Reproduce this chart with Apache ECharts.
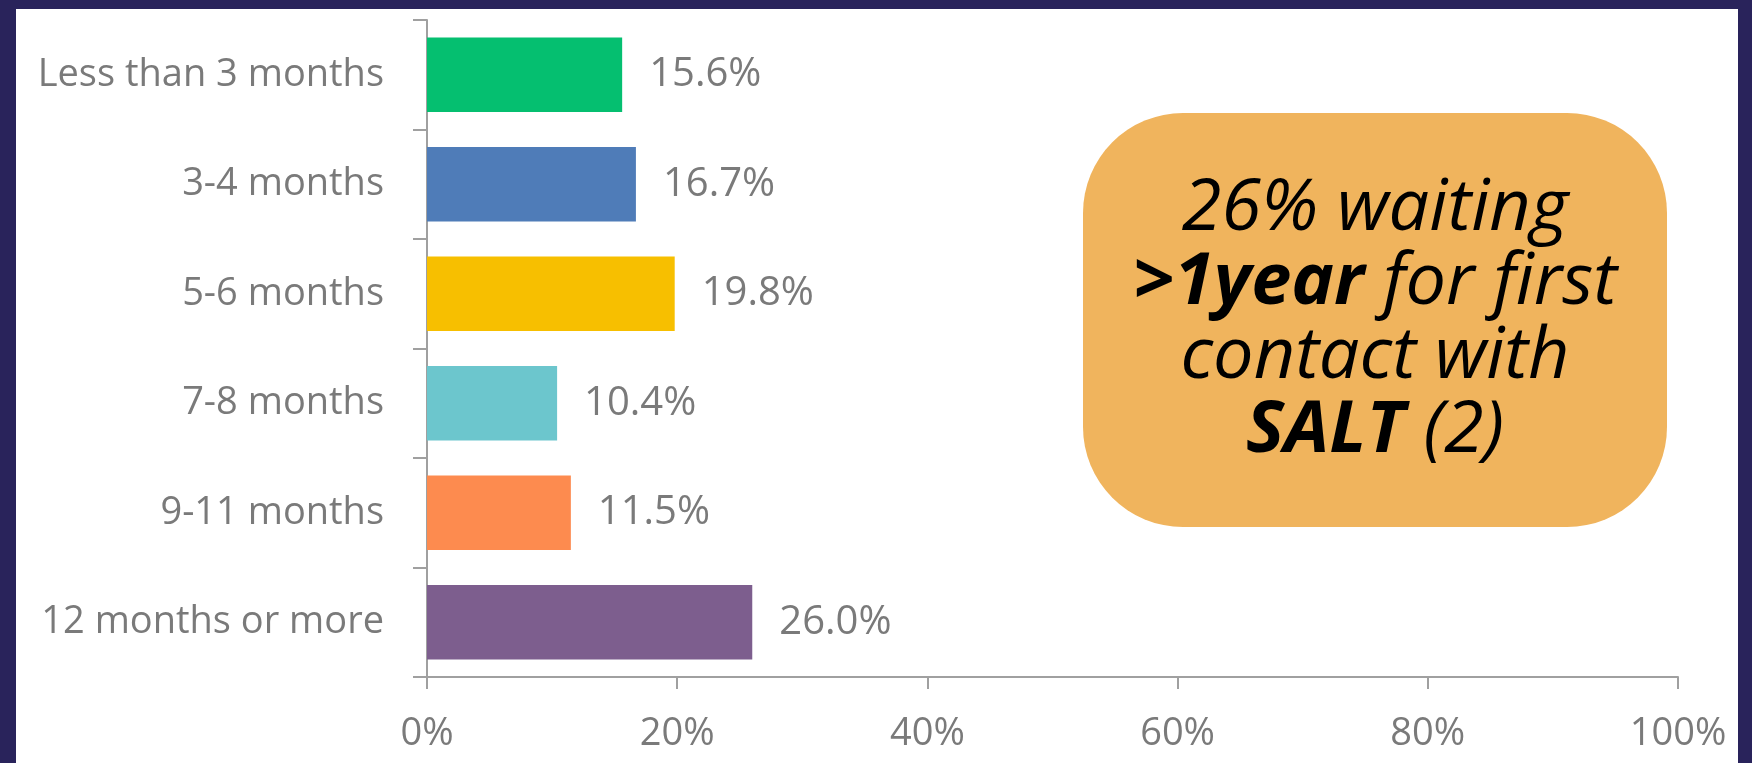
<!DOCTYPE html>
<html>
<head>
<meta charset="utf-8">
<script src="https://cdn.jsdelivr.net/npm/echarts@6/dist/echarts.min.js"></script>
<style>
  html, body { margin: 0; padding: 0; background: #29235b; width: 1752px; height: 763px; overflow: hidden; }
  #panel { position: absolute; left: 16px; top: 9px; width: 1722px; height: 754px; background: #ffffff; }
  #chart { position: absolute; left: 0; top: 0; width: 1752px; height: 763px; }
</style>
</head>
<body>
<div id="panel"></div>
<div id="chart"></div>
<script>
const categories = ['Less than 3 months', '3-4 months', '5-6 months', '7-8 months', '9-11 months', '12 months or more'];
const values = [15.6, 16.7, 19.8, 10.4, 11.5, 26.0];
const barColors = ['#05bf70', '#4f7cb8', '#f7bf00', '#6cc6cd', '#fd8b4f', '#7d5e8e'];
const xTicks = [0, 20, 40, 60, 80, 100];
const calloutLines = ['26% waiting', '>1year', ' for first', 'contact with', 'SALT', ' (2)'];

const chart = echarts.init(document.getElementById('chart'), null, { renderer: 'canvas' });
const labelFont = { fontFamily: 'Open Sans', fontSize: 38, color: '#7a7a7a' };
const axisGray = '#a0a0a0';

chart.setOption({
  backgroundColor: 'transparent',
  animation: false,
  grid: { left: 427, right: 74, top: 20, bottom: 86, containLabel: false },
  xAxis: {
    type: 'value',
    min: xTicks[0],
    max: xTicks[xTicks.length - 1],
    interval: xTicks[1] - xTicks[0],
    splitLine: { show: false },
    axisLine: { show: true, lineStyle: { color: axisGray, width: 2 } },
    axisTick: { show: true, length: 12, lineStyle: { color: axisGray, width: 2 } },
    axisLabel: Object.assign({ margin: 38, formatter: '{value}%' }, labelFont)
  },
  yAxis: {
    type: 'category',
    data: categories,
    inverse: true,
    axisLine: { show: true, lineStyle: { color: axisGray, width: 2 } },
    axisTick: { show: true, length: 14, lineStyle: { color: axisGray, width: 2 } },
    axisLabel: Object.assign({ margin: 43 }, labelFont)
  },
  series: [{
    type: 'bar',
    data: values.map((v, i) => ({ value: v, itemStyle: { color: barColors[i] } })),
    barCategoryGap: '32%',
    label: {
      show: true,
      position: 'right',
      distance: 27,
      formatter: p => p.value.toFixed(1) + '%',
      fontFamily: 'Open Sans',
      fontSize: 40,
      color: '#7a7a7a'
    }
  }],
  graphic: [{
    type: 'group',
    left: 1083,
    top: 113,
    children: [{
      type: 'rect',
      shape: { x: 0, y: 0, width: 584, height: 414, r: 100 },
      style: { fill: '#f0b45d' }
    }, {
      type: 'text',
      x: 292,
      y: 207,
      style: {
        text: '{i|' + calloutLines[0] + '}\n{b|' + calloutLines[1] + '}{i|' + calloutLines[2] + '}\n{i|' + calloutLines[3] + '}\n{b|' + calloutLines[4] + '}{i|' + calloutLines[5] + '}',
        align: 'center',
        verticalAlign: 'middle',
        rich: {
          i: { fontFamily: 'Open Sans', fontStyle: 'italic', fontSize: 72, lineHeight: 74, color: '#1e1e1e' },
          b: { fontFamily: 'Open Sans', fontStyle: 'italic', fontWeight: 'bold', fontSize: 72, lineHeight: 74, color: '#1e1e1e' }
        }
      }
    }]
  }]
});
</script>
</body>
</html>
